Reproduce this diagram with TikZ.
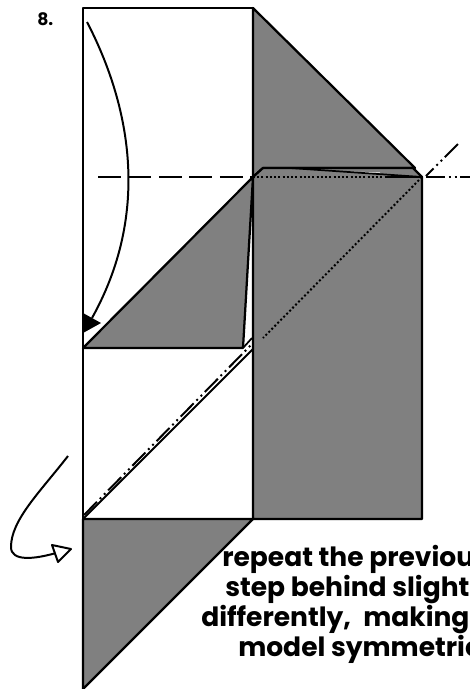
\documentclass[tikz,border=0pt]{standalone}
\usepackage{fontspec}
\setmainfont{Poppins}
\usepackage{xcolor}
\usetikzlibrary{calc}
\definecolor{foldgrey}{HTML}{808080}
\tikzset{
  edge/.style={line width=1.7pt, line join=round},
  thinedge/.style={line width=1.3pt, line join=round},
  flat/.style={fill=foldgrey, edge},
  foldline/.style={line width=1.4pt, dash pattern=on 17pt off 6pt},
  axisline/.style={line width=1.5pt, dash pattern=on 14pt off 3pt on 1.5pt off 3pt on 1.5pt off 3pt},
  hidden/.style={line width=1.5pt, dash pattern=on 1.5pt off 1.7pt},
  arrowline/.style={line width=1.5pt},
  caption/.style={anchor=base west, font=\fontsize{20}{23}\selectfont\bfseries, inner sep=0pt},
}
\begin{document}
\begin{tikzpicture}[x=0.0265cm, y=-0.0265cm]
\useasboundingbox (0,0) rectangle (470,689);
\coordinate (c) at (253,177);
\coordinate (r) at (422,177);
% paper
\draw[edge, fill=white] (83,8) rectangle (253,519);
% grey faces
\draw[flat] (253,8) -- (415,168) -- (263,168) -- (c) -- cycle;
\draw[flat] (c) -- (263,168) -- (413,168) -- (r) -- (422,519) -- (253,519) -- cycle;
\draw[flat] (83,348) -- (c) -- (243,348) -- cycle;
\draw[flat] (83,519) -- (253,519) -- (83,689) -- cycle;
% sliver beside the middle flap
\draw[thinedge] (243,348) -- (252,338);
\draw[edge] (83,348) -- (243,348);
% creases on the upper flap
\fill[white] (320,170.5) -- (380,172.5) -- (380,174) -- cycle;
\draw[thinedge] (290,168) -- (r);
\draw[edge] (263,168) -- (413,168);
\draw[hidden] (c) -- (r);
\draw[edge] (385,177) -- (r);
\draw[hidden] (r) -- (263,338);
% fold lines
\draw[foldline] (98,177) -- (c);
\draw[axisline] (426,177) -- (470,177);
\draw[axisline] (458,144) -- (426,176);
\draw[line width=1.5pt] (83,519) -- (253,349);
\draw[axisline] (84,515) -- (252,344);
% valley fold arrow
\coordinate (foldstart) at (87,22);
\coordinate (foldend) at (92,318);
\draw[arrowline] (foldstart) .. controls (125,95) and (155,205) .. (foldend);
\fill (83,313) -- (101,323) -- (83,333) -- cycle;
% turn over arrow
\coordinate (turnstart) at (68,456);
\coordinate (turnend) at (56,553);
\draw[arrowline] (turnstart) .. controls (40,492) and (11,520) .. (11,547)
  .. controls (11,562) and (35,559) .. (turnend);
\draw[arrowline, fill=white, line join=round] (52,545) -- (71,549) -- (58,562) -- cycle;
% text
\node[anchor=base west, inner sep=0pt, font=\fontsize{13}{15}\selectfont\bfseries] (stepno) at (37,25) {8.};
\node[caption] (line1) at (222,566) {repeat the previou};
\node[caption] (line2) at (225,596) {step behind slight};
\node[caption] (line3) at (201,626) {differently,\hspace{5pt} making};
\node[caption] (line4) at (238,656) {model symmetric};
\end{tikzpicture}
\end{document}
